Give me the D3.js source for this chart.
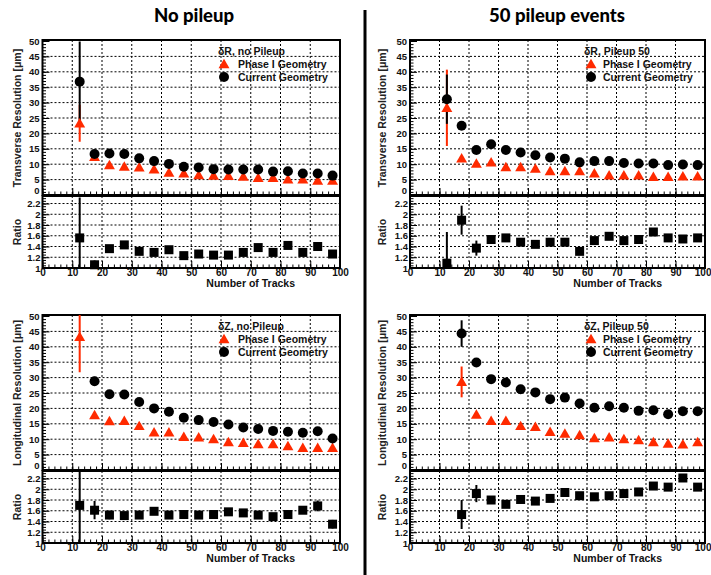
<!DOCTYPE html>
<html><head><meta charset="utf-8">
<script src="https://cdn.jsdelivr.net/npm/d3@7"></script>
<style>body{margin:0;background:#fff}svg{display:block}</style>
</head><body><svg id="c" width="711" height="575"></svg>
<script>
// ---------- DATA ----------
const trackBins = [12.5,17.5,22.5,27.5,32.5,37.5,42.5,47.5,52.5,57.5,62.5,67.5,72.5,77.5,82.5,87.5,92.5,97.5];
const xTicks = [0,10,20,30,40,50,60,70,80,90,100];
const resTicks = [0,5,10,15,20,25,30,35,40,45,50];
const ratioTicks = [1,1.2,1.4,1.6,1.8,2,2.2];
const columnTitles = ["No pileup","50 pileup events"];
const legendEntries = ["Phase I Geometry","Current Geometry"];

// dR, no pileup
const dRnoPU_phase1     = [23.3,12.4,9.7,9.2,9.0,8.3,7.3,7.0,6.5,6.3,6.2,6.0,5.6,5.6,5.1,5.1,4.7,4.7];
const dRnoPU_phase1Err  = [6,0.5,0.4,0.4,0.3,0.3,0.3,0.3,0.3,0.3,0.3,0.3,0.3,0.3,0.3,0.3,0.3,0.3];
const dRnoPU_current    = [36.8,13.3,13.5,13.3,11.9,11.0,10.1,9.2,8.9,8.4,8.3,8.3,8.3,7.6,7.7,7.0,7.0,6.3];
const dRnoPU_currentErr = [13,0.8,0.6,0.5,0.4,0.4,0.3,0.3,0.3,0.3,0.3,0.3,0.3,0.3,0.3,0.3,0.3,0.3];
const dRnoPU_ratio      = [1.56,1.06,1.36,1.43,1.31,1.29,1.34,1.23,1.26,1.24,1.24,1.29,1.38,1.29,1.42,1.29,1.40,1.26];
const dRnoPU_ratioErr   = [0.75,0.08,0.05,0.05,0.04,0.04,0.04,0.04,0.04,0.04,0.04,0.04,0.04,0.04,0.04,0.04,0.04,0.04];

// dR, pileup 50
const dRPU50_phase1     = [28.3,11.9,10.2,10.6,9.1,9.1,8.6,7.8,7.8,7.8,7.0,6.4,6.4,6.4,5.9,5.9,6.1,6.1];
const dRPU50_phase1Err  = [12.4,0.5,0.4,0.4,0.3,0.3,0.3,0.3,0.3,0.3,0.3,0.3,0.3,0.3,0.3,0.3,0.3,0.3];
const dRPU50_current    = [31.1,22.5,14.6,16.5,14.6,13.8,12.9,12.2,11.8,10.6,11.0,11.0,10.4,10.2,10.2,9.7,9.9,9.7];
const dRPU50_currentErr = [8,0.6,0.5,0.5,0.4,0.4,0.3,0.3,0.3,0.3,0.3,0.3,0.3,0.3,0.3,0.3,0.3,0.3];
const dRPU50_ratio      = [1.09,1.89,1.37,1.53,1.56,1.48,1.44,1.48,1.48,1.31,1.51,1.59,1.51,1.53,1.67,1.56,1.54,1.56];
const dRPU50_ratioErr   = [0.58,0.27,0.14,0.05,0.04,0.04,0.04,0.04,0.04,0.04,0.04,0.04,0.04,0.04,0.04,0.04,0.04,0.04];

// dZ, no pileup
const dZnoPU_phase1     = [43.2,17.8,15.9,16.0,14.3,12.2,12.2,10.8,10.6,10.0,9.1,8.8,8.4,8.4,7.8,7.2,7.2,7.2];
const dZnoPU_phase1Err  = [11.5,0.5,0.4,0.4,0.3,0.3,0.3,0.3,0.3,0.3,0.3,0.3,0.3,0.3,0.3,0.3,0.3,0.3];
const dZnoPU_current    = [null,28.8,24.6,24.5,22.1,20.0,18.9,17.0,16.2,15.6,14.8,13.8,13.3,12.7,12.4,12.1,12.6,10.2];
const dZnoPU_currentErr = [null,1.5,0.6,0.5,0.4,0.4,0.3,0.3,0.3,0.3,0.3,0.3,0.3,0.3,0.3,0.3,0.3,0.3];
const dZnoPU_ratio      = [1.70,1.61,1.52,1.51,1.52,1.59,1.52,1.53,1.52,1.53,1.58,1.56,1.52,1.49,1.53,1.61,1.69,1.35];
const dZnoPU_ratioErr   = [1.5,0.17,0.08,0.05,0.05,0.05,0.05,0.05,0.05,0.05,0.05,0.05,0.05,0.05,0.05,0.05,0.1,0.08];

// dZ, pileup 50
const dZPU50_phase1     = [null,28.6,18.0,16.0,16.0,14.3,14.0,12.4,11.8,11.3,10.4,10.6,10.0,9.7,9.1,8.6,8.3,9.1];
const dZPU50_phase1Err  = [null,5,0.5,0.4,0.4,0.3,0.3,0.3,0.3,0.3,0.3,0.3,0.3,0.3,0.3,0.3,0.3,0.3];
const dZPU50_current    = [null,44.3,34.9,29.5,28.4,26.2,25.2,23.0,23.5,21.6,20.2,20.7,20.2,19.2,19.4,18.1,19.1,19.1];
const dZPU50_currentErr = [null,4.3,1.0,0.5,0.4,0.4,0.3,0.3,0.3,0.3,0.3,0.3,0.3,0.3,0.3,0.3,0.3,0.3];
const dZPU50_ratio      = [null,1.53,1.92,1.80,1.72,1.81,1.78,1.83,1.94,1.88,1.86,1.88,1.92,1.95,2.06,2.04,2.21,2.04];
const dZPU50_ratioErr   = [null,0.27,0.16,0.06,0.05,0.05,0.05,0.05,0.05,0.05,0.05,0.05,0.05,0.05,0.05,0.05,0.06,0.07];

// ---------- DRAW ----------
const RED = "#ff2a00";
const FONT = "'Liberation Sans', Arial, Helvetica, sans-serif";
const svg = d3.select("#c");
svg.append("rect").attr("width",711).attr("height",575).attr("fill","#fff");

// column titles
svg.selectAll("text.coltitle").data(columnTitles).join("text")
  .attr("class","coltitle")
  .attr("x",(d,i)=> i===0 ? 194 : 557).attr("y",22)
  .attr("text-anchor","middle")
  .style("font-family","Lato, 'Open Sans', sans-serif").style("font-weight","900")
  .style("font-size","18.5px").attr("fill","#000").text(d=>d);
// divider
svg.append("line").attr("x1",365).attr("x2",365).attr("y1",10).attr("y2",575)
  .attr("stroke","#000").attr("stroke-width",3);

const panels = [
  {col:0,row:0,yTitle:"Transverse Resolution [\u03bcm]",head:"\u03b4R, no Pileup",p1:dRnoPU_phase1,p1e:dRnoPU_phase1Err,cu:dRnoPU_current,cue:dRnoPU_currentErr,ra:dRnoPU_ratio,rae:dRnoPU_ratioErr},
  {col:1,row:0,yTitle:"Transverse Resolution [\u03bcm]",head:"\u03b4R, Pileup 50",p1:dRPU50_phase1,p1e:dRPU50_phase1Err,cu:dRPU50_current,cue:dRPU50_currentErr,ra:dRPU50_ratio,rae:dRPU50_ratioErr},
  {col:0,row:1,yTitle:"Longitudinal Resolution [\u03bcm]",head:"\u03b4Z, no Pileup",p1:dZnoPU_phase1,p1e:dZnoPU_phase1Err,cu:dZnoPU_current,cue:dZnoPU_currentErr,ra:dZnoPU_ratio,rae:dZnoPU_ratioErr},
  {col:1,row:1,yTitle:"Longitudinal Resolution [\u03bcm]",head:"\u03b4Z, Pileup 50",p1:dZPU50_phase1,p1e:dZPU50_phase1Err,cu:dZPU50_current,cue:dZPU50_currentErr,ra:dZPU50_ratio,rae:dZPU50_ratioErr}
];

panels.forEach((P,pi)=>{
  const x0 = P.col===0 ? 42.5 : 410, x1 = P.col===0 ? 340 : 705;
  const dy = P.row===0 ? 0 : 275;
  const mTop = 41+dy, mBot = 195+dy, rTop = 196+dy, rBot = 268+dy;
  const x = d3.scaleLinear().domain([0,100]).range([x0,x1]);
  const y = d3.scaleLinear().domain([0,50]).range([mBot,mTop]);
  const yr = d3.scaleLinear().domain([1,2.34]).range([rBot,rTop]);
  const g = svg.append("g");

  // clip paths
  const cm = "clipM"+pi, cr = "clipR"+pi;
  const defs = svg.append("defs");
  defs.append("clipPath").attr("id",cm).append("rect").attr("x",x0).attr("y",mTop-1).attr("width",x1-x0).attr("height",mBot-mTop+1);
  defs.append("clipPath").attr("id",cr).append("rect").attr("x",x0).attr("y",rTop-1).attr("width",x1-x0).attr("height",rBot-rTop+1);

  // grids
  const grid = g.append("g").attr("stroke","#000").attr("stroke-width",1).attr("stroke-dasharray","2,2");
  xTicks.filter(t=>t>0&&t<100).forEach(t=>{
    grid.append("line").attr("x1",x(t)).attr("x2",x(t)).attr("y1",mTop-1).attr("y2",mBot);
    grid.append("line").attr("x1",x(t)).attr("x2",x(t)).attr("y1",rTop).attr("y2",rBot);
  });
  resTicks.filter(t=>t>0&&t<50).forEach(t=>{
    grid.append("line").attr("x1",x0).attr("x2",x1).attr("y1",y(t)).attr("y2",y(t));
  });
  ratioTicks.filter(t=>t>1).forEach(t=>{
    grid.append("line").attr("x1",x0).attr("x2",x1).attr("y1",yr(t)).attr("y2",yr(t));
  });

  // axes
  const styleAxis = sel => {
    sel.select(".domain").remove();
    sel.selectAll("line").attr("stroke","#000").attr("stroke-width",1);
    sel.selectAll("text").style("font-family",FONT).style("font-weight","bold").attr("fill","#111");
  };
  g.append("g").attr("transform",`translate(${x0},0)`)
    .call(d3.axisLeft(y).tickValues(d3.range(0,51,1)).tickSize(-3.5).tickFormat("")).call(styleAxis);
  const ay = g.append("g").attr("transform",`translate(${x0},0)`)
    .call(d3.axisLeft(y).tickValues(resTicks).tickSize(-7).tickPadding(3).tickFormat(d3.format("d")))
    .call(styleAxis);
  ay.selectAll("text").style("font-size","9.5px");
  ay.selectAll("text").filter(d=>d===0).attr("dy","-0.15em");
  g.append("g").attr("transform",`translate(${x0},0)`)
    .call(d3.axisLeft(yr).tickValues(d3.range(1,2.33,0.05)).tickSize(-3.5).tickFormat("")).call(styleAxis);
  const ayr = g.append("g").attr("transform",`translate(${x0},0)`)
    .call(d3.axisLeft(yr).tickValues(ratioTicks).tickSize(-7).tickPadding(2).tickFormat(d=>String(+d.toFixed(1))))
    .call(styleAxis);
  ayr.selectAll("text").style("font-size","9.5px");
  // x axes
  [mBot, rBot].forEach((yy,k)=>{
    g.append("g").attr("transform",`translate(0,${yy})`)
      .call(d3.axisBottom(x).tickValues(d3.range(0,101,2)).tickSize(-3.5).tickFormat("")).call(styleAxis);
    const a = g.append("g").attr("transform",`translate(0,${yy})`)
      .call(d3.axisBottom(x).tickValues(xTicks).tickSize(-7).tickPadding(1).tickFormat(k===1?d3.format("d"):""))
      .call(styleAxis);
    a.selectAll("text").style("font-size","10px");
    if (P.col===1) a.selectAll("text").filter(d=>d===100).attr("text-anchor","end").attr("x",711-x1);
  });

  // frames
  g.append("rect").attr("x",x0).attr("y",mTop-1).attr("width",x1-x0).attr("height",mBot-mTop+1)
    .attr("fill","none").attr("stroke","#000").attr("stroke-width",2);
  g.append("rect").attr("x",x0).attr("y",rTop).attr("width",x1-x0).attr("height",rBot-rTop)
    .attr("fill","none").attr("stroke","#000").attr("stroke-width",2);

  // axis titles
  const tx = P.col===0 ? 17 : 382;
  g.append("text").attr("transform",`translate(${tx},${(mTop+mBot)/2}) rotate(-90)`)
    .attr("text-anchor","middle").attr("dy","0.35em")
    .style("font-family",FONT).style("font-weight","bold").style("font-size","10.5px").attr("fill","#222")
    .text(P.yTitle);
  g.append("text").attr("transform",`translate(${tx},${(rTop+rBot)/2}) rotate(-90)`)
    .attr("text-anchor","middle").attr("dy","0.35em")
    .style("font-family",FONT).style("font-weight","bold").style("font-size","10.5px").attr("fill","#222")
    .text("Ratio");
  g.append("text").attr("x", P.col===0 ? 295 : 662).attr("y", rBot+19)
    .attr("text-anchor","end")
    .style("font-family",FONT).style("font-weight","bold").style("font-size","10.5px").attr("fill","#111")
    .text("Number of Tracks");

  // data
  const rows = trackBins.map((b,i)=>({b, p1:P.p1[i], p1e:P.p1e[i], cu:P.cu[i], cue:P.cue[i], ra:P.ra[i], rae:P.rae[i]}));
  const tri = d3.symbol(d3.symbolTriangle, 52);
  const eM = g.append("g").attr("clip-path",`url(#${cm})`);
  eM.selectAll("line.e1").data(rows.filter(d=>d.p1!=null)).join("line")
    .attr("x1",d=>x(d.b)).attr("x2",d=>x(d.b))
    .attr("y1",d=>y(d.p1+d.p1e)).attr("y2",d=>y(d.p1-d.p1e))
    .attr("stroke",RED).attr("stroke-width",2);
  eM.selectAll("line.e2").data(rows.filter(d=>d.cu!=null)).join("line")
    .attr("x1",d=>x(d.b)).attr("x2",d=>x(d.b))
    .attr("y1",d=>y(d.cu+d.cue)).attr("y2",d=>y(d.cu-d.cue))
    .attr("stroke","#000").attr("stroke-width",2);
  g.selectAll("path.tri"+pi).data(rows.filter(d=>d.p1!=null)).join("path")
    .attr("d",tri).attr("transform",d=>`translate(${x(d.b)},${y(d.p1)+1})`).attr("fill",RED);
  g.selectAll("circle.cu"+pi).data(rows.filter(d=>d.cu!=null)).join("circle")
    .attr("cx",d=>x(d.b)).attr("cy",d=>y(d.cu)).attr("r",5).attr("fill","#000");

  const eR = g.append("g").attr("clip-path",`url(#${cr})`);
  eR.selectAll("line").data(rows.filter(d=>d.ra!=null)).join("line")
    .attr("x1",d=>x(d.b)).attr("x2",d=>x(d.b))
    .attr("y1",d=>yr(d.ra+d.rae)).attr("y2",d=>yr(d.ra-d.rae))
    .attr("stroke","#000").attr("stroke-width",2);
  g.selectAll("rect.sq"+pi).data(rows.filter(d=>d.ra!=null)).join("rect")
    .attr("x",d=>x(d.b)-4.5).attr("y",d=>yr(d.ra)-4.5).attr("width",9).attr("height",9).attr("fill","#000");

  // legend
  const lx = P.col===0 ? 218 : 584, ly = 51+dy;
  g.append("text").attr("x",lx).attr("y",ly).attr("dy","0.35em")
    .style("font-family",FONT).style("font-weight","bold").style("font-size","10.5px").attr("fill","#111").text(P.head);
  g.append("path").attr("d",tri).attr("transform",`translate(${lx+6+(P.col?1:0)},${ly+14})`).attr("fill",RED);
  g.append("circle").attr("cx",lx+6+(P.col?1:0)).attr("cy",ly+26).attr("r",5).attr("fill","#000");
  g.selectAll("text.leg"+pi).data(legendEntries).join("text")
    .attr("x",lx+(P.col?19:20)).attr("y",(d,i)=>ly+13+i*13).attr("dy","0.35em")
    .style("font-family",FONT).style("font-weight","bold").style("font-size","10.5px").attr("fill","#111").text(d=>d);
});
</script>
</body></html>
